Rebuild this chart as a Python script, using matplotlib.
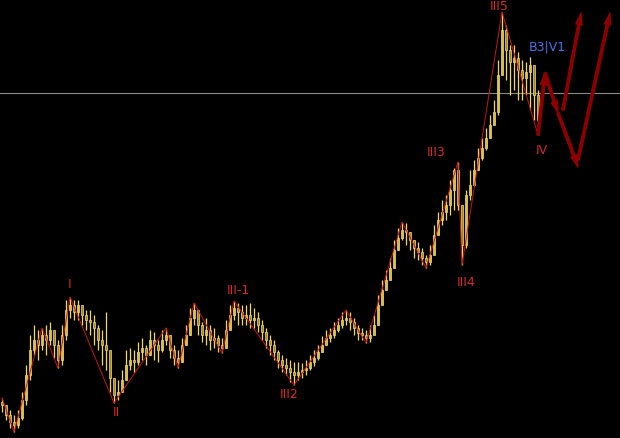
import matplotlib
matplotlib.use("Agg")
import numpy as np
import matplotlib.pyplot as plt

# price bars (arbitrary price units), one bar per index
close = [33, 23, 16, 13, 20, 38, 63, 88, 98, 93, 103, 98, 108, 93, 78, 103, 128, 133, 126, 133,
         123, 118, 116, 110, 98, 93, 88, 60, 43, 46, 58, 73, 78, 76, 86, 90, 83, 98, 93, 88,
         98, 103, 88, 80, 76, 93, 103, 120, 128, 113, 103, 108, 98, 100, 93, 90, 108, 123, 130, 126,
         120, 123, 118, 120, 113, 106, 98, 93, 86, 78, 73, 70, 66, 63, 66, 68, 70, 76, 80, 86,
         93, 100, 103, 108, 113, 118, 120, 116, 110, 105, 103, 100, 103, 113, 133, 148, 158, 170, 188, 200,
         208, 206, 198, 190, 186, 180, 176, 183, 203, 218, 226, 233, 248, 268, 233, 193, 243, 253, 268, 280,
         290, 300, 313, 326, 363, 408, 388, 376, 380, 368, 360, 366, 373, 343, 318]
high = [40, 33, 28, 23, 28, 46, 73, 103, 113, 108, 110, 113, 116, 103, 98, 113, 138, 141, 138, 138,
        133, 128, 128, 123, 113, 108, 126, 83, 58, 58, 68, 88, 90, 88, 96, 100, 93, 108, 106, 98,
        108, 110, 103, 93, 88, 100, 113, 130, 135, 128, 116, 120, 113, 110, 103, 100, 118, 133, 137, 135,
        133, 133, 135, 130, 126, 118, 110, 103, 98, 88, 83, 80, 78, 76, 76, 75, 78, 83, 88, 93,
        102, 108, 110, 116, 120, 126, 128, 126, 120, 113, 110, 108, 113, 123, 143, 158, 168, 180, 198, 210,
        216, 215, 206, 198, 196, 190, 183, 193, 213, 226, 238, 243, 258, 270, 276, 233, 248, 268, 278, 290,
        300, 310, 323, 338, 378, 426, 413, 393, 393, 386, 378, 376, 381, 366, 348]
low = [26, 18, 10, 6, 10, 18, 33, 58, 83, 78, 88, 83, 93, 80, 70, 73, 98, 120, 118, 118,
       113, 108, 103, 93, 88, 73, 68, 46, 35, 38, 46, 63, 68, 66, 73, 78, 73, 83, 78, 76,
       86, 93, 80, 73, 70, 78, 93, 108, 113, 103, 96, 93, 88, 90, 86, 85, 93, 113, 118, 113,
       113, 113, 110, 110, 106, 98, 90, 83, 78, 70, 66, 63, 56, 53, 58, 60, 63, 68, 72, 78,
       86, 93, 96, 100, 106, 110, 113, 108, 103, 98, 98, 95, 96, 103, 118, 138, 148, 162, 173, 190,
       198, 193, 188, 180, 178, 173, 170, 173, 188, 203, 213, 218, 223, 228, 228, 173, 190, 238, 253, 268,
       278, 288, 300, 313, 323, 378, 358, 343, 348, 338, 338, 343, 328, 318, 303]
first_open = 36

# wave pivots: bar index, 'H' uses high / 'L' uses low
pivot_idx = [0, 3, 10, 14, 17, 28, 41, 44, 48, 55, 58, 73, 86, 91, 100, 106, 114, 115, 125, 134]
pivot_kind = ['H', 'L', 'H', 'L', 'H', 'L', 'H', 'L', 'H', 'L', 'H', 'L', 'H', 'L', 'H', 'L', 'H', 'L', 'H', 'L']

# wave labels: bar index, text, pixel offset, colour
wave_labels = [
    (17, 'H', 'I', (0, 13), '#d42a2a'),
    (28, 'L', 'II', (2, -10), '#d42a2a'),
    (58, 'H', 'III-1', (4, 10), '#d42a2a'),
    (73, 'L', 'III2', (-5, -9), '#d42a2a'),
    (114, 'H', 'III3', (-22, 9), '#d42a2a'),
    (115, 'L', 'III4', (4, -18), '#d42a2a'),
    (125, 'H', 'III5', (-3, 6), '#d42a2a'),
    (132, 'H', 'B3|V1', (17, 10), '#4a72e6'),
    (134, 'L', 'IV', (4, -15), '#d42a2a'),
]

# projected path arrows (bar index, price) -> (bar index, price)
projections = [
    ((134.0, 303), (135.75, 365)),
    ((135.75, 365), (139.0, 325)),
    ((140.25, 328), (144.75, 425)),
    ((139.0, 325), (144.0, 271)),
    ((144.0, 278), (152.0, 425)),
]

level = 345

close = np.array(close, dtype=float)
high = np.array(high, dtype=float)
low = np.array(low, dtype=float)
opn = np.concatenate([[first_open], close[:-1]])
high = np.maximum(high, np.maximum(opn, close))
low = np.minimum(low, np.minimum(opn, close))
x = np.arange(len(close))

fig = plt.figure(figsize=(6.2, 4.38), dpi=100, facecolor='black')
ax = fig.add_axes([0, 0, 1, 1])
ax.set_facecolor('black')
ax.set_xlim(-0.5, 154.5)
ax.set_ylim(0, 438)
ax.axis('off')

# horizontal level
ax.axhline(level, color='#8a8a8a', lw=0.8, zorder=1)

# candles: bright yellow outline, gold fill
up = close >= opn
face = np.where(up, '#d9bd44', '#a3851f')
ax.vlines(x, low, high, colors='#f0da58', lw=0.9, zorder=2)
ax.bar(x, np.maximum(np.abs(close - opn), 1.5), bottom=np.minimum(opn, close),
       width=0.72, color=face, edgecolor='#f3df62', lw=0.5, zorder=3)

# zigzag
py = [high[i] if k == 'H' else low[i] for i, k in zip(pivot_idx, pivot_kind)]
ax.plot(pivot_idx, py, color='#c8141a', lw=0.7, zorder=4)

# labels
for i, k, txt, off, c in wave_labels:
    yv = high[i] if k == 'H' else low[i]
    ax.annotate(txt, (i, yv), xytext=off, textcoords='offset pixels',
                ha='center', va='center', color=c, fontsize=9, zorder=6)

# projection arrows
for (x0, y0), (x1, y1) in projections:
    ax.annotate('', xy=(x1, y1), xytext=(x0, y0),
                arrowprops=dict(arrowstyle='simple,head_length=0.85,head_width=0.45,tail_width=0.17',
                                mutation_scale=10, color='#8e0000', shrinkA=0, shrinkB=0),
                zorder=5)

fig.savefig('out.png', dpi=100, facecolor='black')
